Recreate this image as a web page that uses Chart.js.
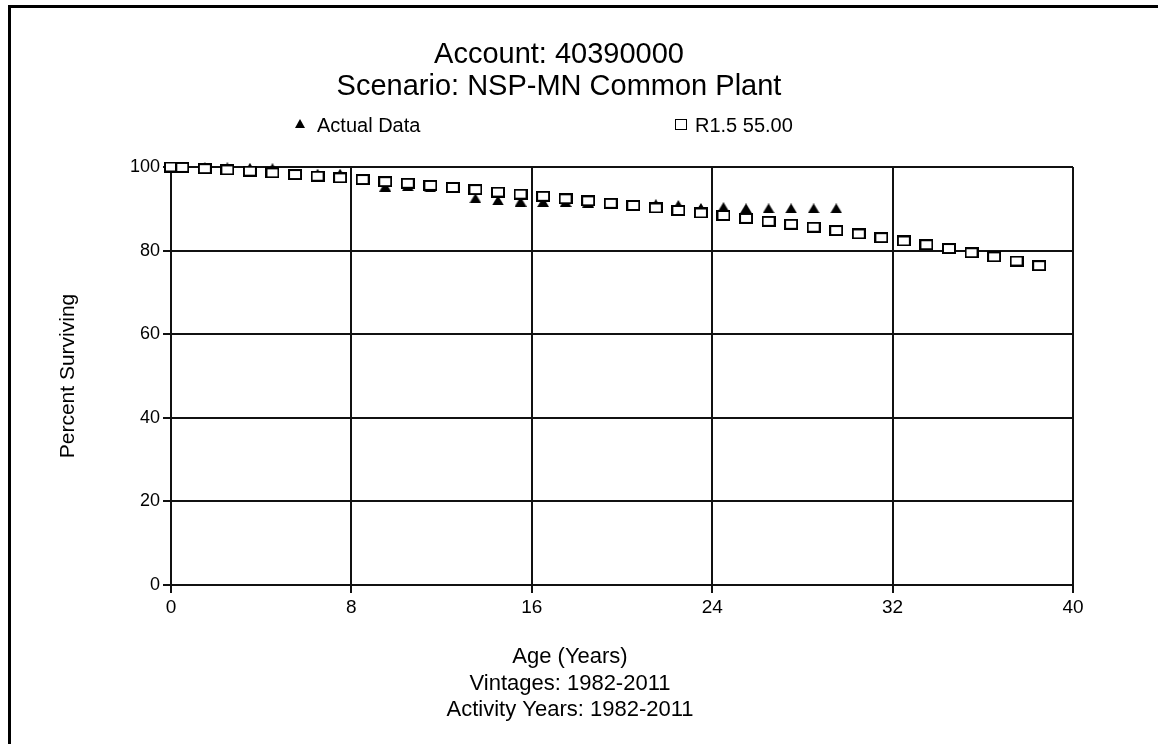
<!DOCTYPE html>
<html>
<head>
<meta charset="utf-8">
<title>Account 40390000 - Percent Surviving</title>
<script src="https://cdn.jsdelivr.net/npm/chart.js@4.4.1/dist/chart.umd.min.js"></script>
<style>
  html, body { margin: 0; padding: 0; background: #fff; }
  #wrap { width: 1158px; height: 744px; }
</style>
</head>
<body>
<div id="wrap"><canvas id="chart" width="1158" height="744"></canvas></div>
<script>
// Observed survivorship (Actual Data), by age in years
const actualAges = [0, 0.5, 1.5, 2.5, 3.5, 4.5, 5.5, 6.5, 7.5, 8.5, 9.5, 10.5, 11.5, 12.5, 13.5,
  14.5, 15.5, 16.5, 17.5, 18.5, 19.5, 20.5, 21.5, 22.5, 23.5, 24.5, 25.5, 26.5, 27.5, 28.5, 29.5];
const actualPct = [100, 100, 99.9, 99.9, 99.8, 99.7, 98.4, 98.4, 98.4, 97.0, 95.3, 95.4, 95.1, 95.0, 92.5,
  92.0, 91.7, 91.6, 91.6, 91.5, 91.3, 91.0, 91.1, 90.9, 90.2, 90.4, 90.1, 90.1, 90.1, 90.1, 90.1];

// Fitted Iowa curve R1.5, 55.00-year average life
const curveAges = [0, 0.5, 1.5, 2.5, 3.5, 4.5, 5.5, 6.5, 7.5, 8.5, 9.5, 10.5, 11.5, 12.5, 13.5,
  14.5, 15.5, 16.5, 17.5, 18.5, 19.5, 20.5, 21.5, 22.5, 23.5, 24.5, 25.5, 26.5, 27.5, 28.5,
  29.5, 30.5, 31.5, 32.5, 33.5, 34.5, 35.5, 36.5, 37.5, 38.5];
const curvePct = [100, 99.9, 99.6, 99.3, 99.0, 98.6, 98.2, 97.8, 97.4, 97.0, 96.5, 96.1, 95.6, 95.1, 94.6,
  94.0, 93.5, 93.0, 92.4, 91.9, 91.3, 90.8, 90.2, 89.6, 89.0, 88.4, 87.7, 87.0, 86.3, 85.6,
  84.8, 84.0, 83.1, 82.3, 81.4, 80.5, 79.5, 78.5, 77.5, 76.4];

// Axis ticks and texts
const xTicks = [0, 8, 16, 24, 32, 40];
const yTicks = [0, 20, 40, 60, 80, 100];
const titleLines = ['Account: 40390000', 'Scenario: NSP-MN Common Plant'];
const legendLabels = ['Actual Data', 'R1.5 55.00'];
const xTitleLines = ['Age (Years)', 'Vintages: 1982-2011', 'Activity Years: 1982-2011'];
const yTitle = 'Percent Surviving';

const FONT = '"Liberation Sans", Arial, sans-serif';

// Marker images: open rectangle for the curve, filled triangle for observed data
function rectMarker(w, h, b) {
  const c = document.createElement('canvas');
  c.width = w; c.height = h;
  const g = c.getContext('2d');
  g.fillStyle = '#000';
  g.fillRect(0, 0, w, h);
  g.fillStyle = '#fff';
  g.fillRect(b, b, w - 2 * b, h - 2 * b);
  return c;
}
function triMarker(w, h) {
  const c = document.createElement('canvas');
  c.width = w; c.height = h;
  const g = c.getContext('2d');
  g.fillStyle = '#000';
  g.beginPath();
  g.moveTo(w / 2, 0);
  g.lineTo(w, h);
  g.lineTo(0, h);
  g.closePath();
  g.fill();
  return c;
}
const squareImg = rectMarker(14, 11, 2);
const triangleImg = triMarker(12, 10);
const legendSquare = rectMarker(12, 11, 1);
const legendTriangle = triMarker(10, 9);

const toPoints = (xs, ys) => xs.map((x, i) => ({ x: x, y: ys[i] }));

// Frame, titles, legend and axis titles
const decorations = {
  id: 'decorations',
  beforeDraw(chart) {
    const ctx = chart.ctx;
    ctx.save();
    ctx.fillStyle = '#fff';
    ctx.fillRect(0, 0, chart.width, chart.height);
    ctx.fillStyle = '#000';
    ctx.fillRect(8, 5, chart.width - 8, 3);
    ctx.fillRect(8, 5, 3, chart.height - 5);
    ctx.restore();
  },
  afterDraw(chart) {
    const ctx = chart.ctx;
    ctx.save();
    ctx.fillStyle = '#000';
    ctx.textAlign = 'center';
    ctx.textBaseline = 'alphabetic';
    ctx.font = '29px ' + FONT;
    ctx.fillText(titleLines[0], 559, 63);
    ctx.fillText(titleLines[1], 559, 95);

    // legend
    ctx.font = '20px ' + FONT;
    ctx.textAlign = 'left';
    ctx.drawImage(legendTriangle, 295, 119);
    ctx.fillText(legendLabels[0], 317, 132);
    ctx.drawImage(legendSquare, 675, 119);
    ctx.fillText(legendLabels[1], 695, 132);

    // x axis titles
    ctx.textAlign = 'center';
    ctx.font = '22px ' + FONT;
    ctx.fillText(xTitleLines[0], 570, 663);
    ctx.fillText(xTitleLines[1], 570, 690);
    ctx.fillText(xTitleLines[2], 570, 716);

    // y axis title
    ctx.translate(68, 376);
    ctx.rotate(-Math.PI / 2);
    ctx.font = '21px ' + FONT;
    ctx.textBaseline = 'middle';
    ctx.fillText(yTitle, 0, 0);
    ctx.restore();
  }
};

new Chart(document.getElementById('chart'), {
  type: 'scatter',
  data: {
    datasets: [
      {
        label: legendLabels[1],
        data: toPoints(curveAges, curvePct),
        pointStyle: squareImg,
        pointRadius: 6,
        showLine: false,
        clip: false,
        order: 0
      },
      {
        label: legendLabels[0],
        data: toPoints(actualAges, actualPct),
        pointStyle: triangleImg,
        pointRadius: 6,
        showLine: false,
        clip: false,
        order: 1
      }
    ]
  },
  options: {
    responsive: false,
    animation: false,
    devicePixelRatio: 1,
    layout: { padding: { left: 131, right: 85, top: 167, bottom: 119 } },
    plugins: {
      legend: { display: false },
      title: { display: false },
      tooltip: { enabled: false }
    },
    scales: {
      x: {
        type: 'linear',
        min: xTicks[0],
        max: xTicks[xTicks.length - 1],
        afterBuildTicks(scale) { scale.ticks = xTicks.map(v => ({ value: v })); },
        afterFit(scale) { scale.height = 40; },
        ticks: { color: '#000', font: { family: FONT, size: 19 }, padding: 3, maxRotation: 0 },
        grid: { color: '#111', lineWidth: 2, tickLength: 8, drawTicks: true },
        border: { color: '#111', width: 2 }
      },
      y: {
        type: 'linear',
        min: yTicks[0],
        max: yTicks[yTicks.length - 1],
        afterBuildTicks(scale) { scale.ticks = yTicks.map(v => ({ value: v })); },
        afterFit(scale) { scale.width = 40; },
        ticks: { color: '#000', font: { family: FONT, size: 18 }, padding: 3 },
        grid: { color: '#111', lineWidth: 2, tickLength: 8, drawTicks: true },
        border: { color: '#111', width: 2 }
      }
    }
  },
  plugins: [decorations]
});
</script>
</body>
</html>
